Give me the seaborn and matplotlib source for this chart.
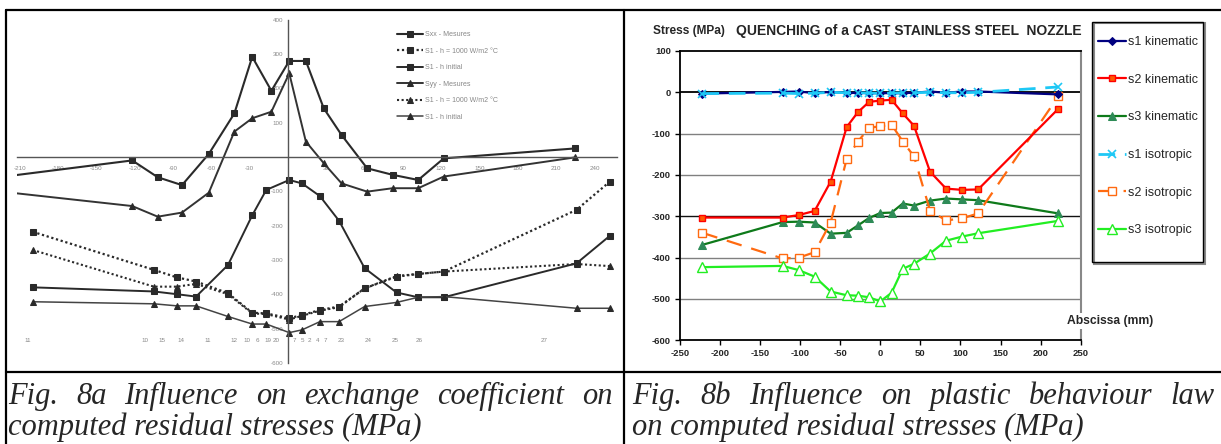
import numpy as np
import pandas as pd
import matplotlib
matplotlib.use("Agg")
import matplotlib.pyplot as plt
import seaborn as sns
from matplotlib.lines import Line2D
from matplotlib.patches import Rectangle

# ---------------- Fig. 8a data (exchange coefficient) ----------------
xa_top = [-222, -122, -102, -83, -62, -42, -28, -13, 1, 14, 28, 42, 62, 82, 102, 122, 225]
a_mes1 = [-57, -10, -59, -82, 9, 127, 292, 193, 280, 280, 142, 64, -33, -52, -67, -4, 25]
a_mes2 = [-102, -143, -174, -162, -104, 74, 113, 132, 244, 45, -18, -77, -101, -91, -91, -57, -1]
xa_low = [-200, -105, -87, -72, -47, -28, -17, 1, 11, 25, 40, 60, 85, 102, 122, 226, 252]
a_h_sq = [-218, -329, -351, -363, -397, -454, -456, -470, -461, -446, -436, -383, -349, -341, -334, -154, -72]
a_ini_sq = [-380, -392, -400, -407, -315, -170, -96, -67, -77, -114, -186, -324, -395, -409, -409, -310, -230]
a_h_tri = [-271, -378, -378, -370, -400, -456, -458, -474, -463, -448, -438, -383, -347, -341, -334, -312, -318]
a_ini_tri = [-422, -428, -434, -434, -465, -487, -487, -512, -504, -480, -480, -436, -424, -409, -407, -441, -441]
a_labels = ["Sxx - Mesures", "S1 - h = 1000 W/m2 °C", "S1 - h initial",
            "Syy - Mesures", "S1 - h = 1000 W/m2 °C", "S1 - h initial"]
a_xticks = [-210, -180, -150, -120, -90, -60, -30, 30, 60, 90, 120, 150, 180, 210, 240]
a_yticks = [-600, -500, -400, -300, -200, -100, 100, 200, 300, 400]
node_x = [-204, -112, -99, -84, -63, -42, -32, -24, -16, -9, 5, 11, 17, 23, 29, 42, 63, 84, 103, 201]
node_txt = ["11", "10", "15", "14", "11", "12", "10", "6", "19", "20", "7", "5", "2", "4", "7",
            "23", "24", "25", "26", "27"]

# ---------------- Fig. 8b data (plastic behaviour law) ----------------
xb = [-222, -122, -102, -82, -62, -42, -28, -14, 0, 14, 28, 42, 62, 82, 102, 122, 222]
s1_kin = [-3, 1, 2, -2, 1, -2, -1, -2, -2, -2, -2, -1, 2, -1, 2, 2, -5]
s2_kin = [-303, -303, -297, -287, -216, -84, -48, -23, -20, -18, -51, -81, -192, -233, -236, -235, -40]
s3_kin = [-369, -314, -313, -315, -342, -340, -322, -304, -292, -291, -269, -274, -262, -257, -259, -261, -293]
s1_iso = [-3, -2, -3, -2, 0, -1, -1, -2, -2, -2, -1, -1, 0, -1, -1, 0, 13]
s2_iso = [-340, -402, -400, -387, -315, -161, -119, -86, -82, -78, -119, -155, -286, -310, -305, -293, -10]
s3_iso = [-423, -420, -430, -446, -482, -491, -492, -496, -506, -485, -427, -415, -390, -359, -349, -341, -311]
b_labels = ["s1 kinematic", "s2 kinematic", "s3 kinematic", "s1 isotropic", "s2 isotropic", "s3 isotropic"]
b_xticks = list(range(-250, 251, 50))
b_yticks = list(range(-600, 101, 100))

cap_a = ["Fig. 8a Influence on exchange coefficient on", "computed residual stresses (MPa)"]
cap_b = ["Fig. 8b Influence on plastic behaviour law", "on computed residual stresses (MPa)"]

sns.set_style("white")
plt.rcParams['font.family'] = ['Liberation Sans', 'DejaVu Sans']

W, H = 1221, 444
fx = lambda px: px / W
fy = lambda py: 1 - py / H

fig = plt.figure(figsize=(W / 100, H / 100), dpi=100)


def draw(ax, x, y, label, **kw):
    sns.lineplot(x=x, y=y, ax=ax, sort=False, estimator=None, errorbar=None,
                 label=label, legend=False, **kw)


# ================= Left panel =================
axa = fig.add_axes([fx(17.3), fy(362.8), fx(617.4) - fx(17.3), fy(19.8) - fy(362.8)])
axa.set_facecolor("none")
dk = "#2a2a2a"
dotted = (0, (1.0, 1.2))
draw(axa, xa_top, a_mes1, a_labels[0], color=dk, lw=1.5, marker="s", markersize=4,
     markerfacecolor=dk, markeredgecolor=dk)
draw(axa, xa_low, a_h_sq, a_labels[1], color=dk, lw=1.6, linestyle=dotted, marker="s", markersize=4,
     markerfacecolor=dk, markeredgecolor=dk)
draw(axa, xa_low, a_ini_sq, a_labels[2], color=dk, lw=1.4, marker="s", markersize=4,
     markerfacecolor=dk, markeredgecolor=dk)
draw(axa, xa_top, a_mes2, a_labels[3], color="#333333", lw=1.4, marker="^", markersize=4,
     markerfacecolor=dk, markeredgecolor=dk)
draw(axa, xa_low, a_h_tri, a_labels[4], color=dk, lw=1.5, linestyle=dotted, marker="^", markersize=4,
     markerfacecolor=dk, markeredgecolor=dk)
draw(axa, xa_low, a_ini_tri, a_labels[5], color="#444444", lw=1.1, marker="^", markersize=4,
     markerfacecolor=dk, markeredgecolor=dk)
axa.set_xlim(-212, 258)
axa.set_ylim(-600, 400)
for s in ["top", "right"]:
    axa.spines[s].set_visible(False)
axa.spines["left"].set_position(("data", 0))
axa.spines["bottom"].set_position(("data", 0))
for s in ["left", "bottom"]:
    axa.spines[s].set_color("#555555")
    axa.spines[s].set_linewidth(1.0)
axa.set_xticks(a_xticks)
axa.set_xticklabels([str(v) for v in a_xticks])
axa.set_yticks(a_yticks)
axa.set_yticklabels([str(v) for v in a_yticks])
axa.tick_params(axis="both", direction="inout", length=3, width=0.6, color="#777777",
                labelsize=4.5, labelcolor="#888888", pad=5)
axa.tick_params(axis="y", pad=2)
axa.set_xlabel("")
axa.set_ylabel("")
for xv, t in zip(node_x, node_txt):
    axa.text(xv, -535, t, fontsize=4.5, color="#888888", ha="center", va="center")
ha_, la_ = axa.get_legend_handles_labels()
fig.legend(ha_, la_, loc="upper left", bbox_to_anchor=(fx(397), fy(31)), frameon=False,
           fontsize=5, labelcolor="#888888", handlelength=3.75, handletextpad=0.3,
           labelspacing=1.38, borderpad=0, borderaxespad=0)

# ================= Right panel =================
axb = fig.add_axes([fx(680), fy(340.3), fx(1080.7) - fx(680), fy(51) - fy(340.3)])
for yv in [-100, -200, -400, -500]:
    axb.axhline(yv, color="#808080", lw=1.0, zorder=1)
axb.axhline(-300, color="#111111", lw=1.0, zorder=1)
axb.axhline(0, color="black", lw=1.3, zorder=1)

lw = 1.6
draw(axb, xb, s1_kin, b_labels[0], color="#000080", lw=lw, marker="D", markersize=4,
     markerfacecolor="#000080", markeredgecolor="#000080", zorder=4)
draw(axb, xb, s2_kin, b_labels[1], color="#ff0000", lw=lw, marker="s", markersize=4.2,
     markerfacecolor="#ff5a00", markeredgecolor="#ff0000", markeredgewidth=1.0, zorder=4)
draw(axb, xb, s3_kin, b_labels[2], color="#0e7a1a", lw=lw, marker="^", markersize=5.5,
     markerfacecolor="#2e8b57", markeredgecolor="#2e8b57", zorder=3)
draw(axb, xb, s1_iso, b_labels[3], color="#1ec8f5", lw=2.0, linestyle=(0, (6, 3.5)), marker="x",
     markersize=5.5, markeredgecolor="#1ec8f5", markeredgewidth=1.2, zorder=5)
draw(axb, xb, s2_iso, b_labels[4], color="#ff6a10", lw=lw, linestyle=(0, (7, 4.5)), marker="s",
     markersize=6, markerfacecolor="white", markeredgecolor="#ff6a10", markeredgewidth=1.0, zorder=3)
draw(axb, xb, s3_iso, b_labels[5], color="#22ee22", lw=lw, marker="^", markersize=6.5,
     markerfacecolor="white", markeredgecolor="#22ee22", markeredgewidth=1.0, zorder=3)

axb.set_xlim(-250, 250)
axb.set_ylim(-600, 100)
axb.set_xticks(b_xticks)
axb.set_yticks(b_yticks)
axb.set_xticklabels([str(v) for v in b_xticks], fontweight="bold")
axb.set_yticklabels([str(v) for v in b_yticks], fontweight="bold")
axb.tick_params(axis="both", direction="out", length=3.5, width=1.0, color="black",
                labelsize=6.8, pad=3, bottom=True, left=True)
for s in ["left", "bottom", "top"]:
    axb.spines[s].set_color("black")
    axb.spines[s].set_linewidth(1.3)
axb.spines["right"].set_color("#888888")
axb.spines["right"].set_linewidth(1.5)
axb.set_xlabel("")
axb.set_ylabel("")

fig.text(fx(653), fy(31), "Stress (MPa)", fontsize=8.6, fontweight="bold", va="center", ha="left")
fig.text(fx(736), fy(31.5), "QUENCHING of a CAST STAINLESS STEEL  NOZZLE", fontsize=10.0,
         fontweight="bold", va="center", ha="left")
fig.text(fx(1067), fy(321), "Abscissa (mm)", fontsize=8.7, fontweight="bold", va="center",
         ha="left", bbox=dict(facecolor="white", edgecolor="none", pad=1.5), zorder=10)

hb, lb = axb.get_legend_handles_labels()
fig.legend(hb, lb, loc="upper left", bbox_to_anchor=(fx(1098), fy(36)), frameon=False,
           fontsize=9, handlelength=2.2, handletextpad=0.2, labelspacing=2.05,
           borderpad=0, borderaxespad=0)
fig.patches.append(Rectangle((fx(1094), fy(264)), fx(1205) - fx(1094), fy(23) - fy(264),
                             transform=fig.transFigure, facecolor="none", edgecolor="#888888",
                             lw=1.5, zorder=1))
fig.patches.append(Rectangle((fx(1092), fy(262.3)), fx(1203.3) - fx(1092), fy(21.7) - fy(262.3),
                             transform=fig.transFigure, facecolor="none", edgecolor="black",
                             lw=1.0, zorder=2))

# ================= Table borders =================
def fline(x0, y0, x1, y1, lw=1.6):
    fig.add_artist(Line2D([fx(x0), fx(x1)], [fy(y0), fy(y1)], color="black", lw=lw,
                          transform=fig.transFigure))

fline(6, 10, 1221, 10)
fline(6, 372, 1221, 372)
fline(6, 10, 6, 444)
fline(624, 10, 624, 444)

# ================= Captions (first line justified) =================
cap_font = dict(family=["Liberation Serif", "DejaVu Serif"], style="italic")
fig.canvas.draw()
r = fig.canvas.get_renderer()
probe = fig.text(0, 0, cap_a[0], fontsize=23, **cap_font)
wid = probe.get_window_extent(r).width
probe.remove()
fs = 23 * 605 / wid * 0.9

for (x0, x1, lines) in [(8, 613, cap_a), (632, 1215, cap_b)]:
    words = lines[0].split(" ")
    objs = [fig.text(0, fy(404), w_, fontsize=fs, ha="left", va="baseline", **cap_font) for w_ in words]
    widths = [o.get_window_extent(r).width for o in objs]
    gap = (x1 - x0 - sum(widths)) / (len(words) - 1)
    xc = x0
    for o, wdt in zip(objs, widths):
        o.set_x(fx(xc))
        xc += wdt + gap
    fig.text(fx(x0), fy(435), lines[1], fontsize=fs, ha="left", va="baseline", **cap_font)

fig.savefig("out.png", dpi=100)
